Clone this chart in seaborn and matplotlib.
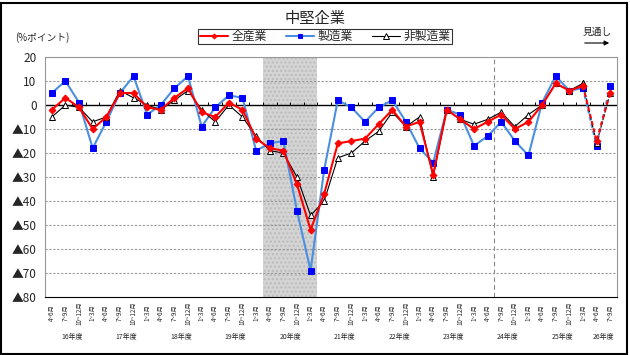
import matplotlib
matplotlib.use("Agg")
import matplotlib.pyplot as plt
import matplotlib.transforms as mtransforms
from matplotlib.patches import Rectangle
from matplotlib.lines import Line2D
import seaborn as sns
import pandas as pd
import numpy as np

sns.set_style("white")
plt.rcParams['font.family'] = ['Noto Sans CJK JP', 'DejaVu Sans']

years = ["16年度", "17年度", "18年度", "19年度", "20年度", "21年度",
         "22年度", "23年度", "24年度", "25年度", "26年度"]
quarters = ["4~6月", "7~9月", "10~12月", "1~3月"]
n_quarters_per_year = [4, 4, 4, 4, 4, 4, 4, 4, 4, 4, 2]

all_ind = [-2, 3, -1, -10, -5, 5, 5, -1, -2, 3, 7, -3, -5, 1, -2, -14,
           -18, -19, -33, -52, -37, -16, -15, -14, -8, -2, -9, -7,
           -29, -2, -6, -10, -7, -4, -10, -7, 0, 9, 6, 8, -15, 5]
mfg = [5, 10, 1, -18, -7, 5, 12, -4, 0, 7, 12, -9, -1, 4, 3, -19,
       -16, -15, -44, -69, -27, 2, -1, -7, -1, 2, -7, -18,
       -24, -2, -4, -17, -13, -7, -15, -21, 1, 12, 6, 7, -17, 8]
nonmfg = [-5, 0, -1, -7, -5, 6, 3, 0, -2, 2, 6, -2, -7, 0, -5, -13,
          -19, -20, -30, -46, -40, -22, -20, -15, -11, -3, -9, -5,
          -30, -2, -6, -8, -6, -3, -9, -4, 0, 9, 6, 9, -16, 5]
series_names = ["全産業", "製造業", "非製造業"]

q_labels = []
for ny in n_quarters_per_year:
    q_labels += quarters[:ny]
n = len(q_labels)
idx = np.arange(n)
last_actual = 39          # forecast segments drawn dashed after this point
shaded_year = "20年度"
divider_after = 32        # dashed vertical divider after this index

fig = plt.figure(figsize=(6.3, 3.55), dpi=100)
ax = fig.add_axes([45/630, 1-297/355, (617-45)/630, 240/355])

styles = {
    "全産業": dict(color="#FF0000", marker="D", ms=3.5, mfc="#FF0000", mec="#FF0000", lw=1.5),
    "製造業": dict(color="#4A8FE0", marker="s", ms=4.5, mfc="#0000FF", mec="#0000FF", lw=1.5),
    "非製造業": dict(color="#000000", marker="^", ms=5, mfc="white", mec="#000000", lw=0.8),
}
data = {"全産業": all_ind, "製造業": mfg, "非製造業": nonmfg}
order = ["製造業", "非製造業", "全産業"]
for name in order:
    vals = data[name]
    st = styles[name]
    df1 = pd.DataFrame({"x": idx[:last_actual+1], "y": vals[:last_actual+1]})
    sns.lineplot(data=df1, x="x", y="y", ax=ax, color=st["color"], lw=st["lw"],
                 marker=st["marker"], markersize=st["ms"], markerfacecolor=st["mfc"],
                 markeredgecolor=st["mec"], markeredgewidth=0.7, zorder=4)
    df2 = pd.DataFrame({"x": idx[last_actual:], "y": vals[last_actual:]})
    sns.lineplot(data=df2, x="x", y="y", ax=ax, color=st["color"], lw=st["lw"],
                 linestyle=(0, (2, 1.5)),
                 marker=st["marker"], markersize=st["ms"], markerfacecolor=st["mfc"],
                 markeredgecolor=st["mec"], markeredgewidth=0.7, zorder=4)

# shaded year
start = sum(n_quarters_per_year[:years.index(shaded_year)])
ax.axvspan(start - 0.5, start + 3.5, facecolor="#D4D4D4", edgecolor="#BBBBBB",
           hatch="....", lw=0, zorder=0)
ax.axvline(divider_after + 0.5, color="#888888", lw=0.8, ls=(0, (4, 3)), zorder=1)

ax.set_xlim(-0.5, n - 0.5)
ax.set_ylim(-80, 20)
yt = np.arange(-80, 21, 10)
ax.set_yticks(yt)
ax.set_yticklabels([("▲%d" % -v) if v < 0 else str(v) for v in yt], fontsize=8.5)
for v in yt:
    if v == 0:
        ax.axhline(0, color="black", lw=1.0, zorder=2)
    elif v not in (-80, 20):
        ax.axhline(v, color="#999999", lw=0.8, ls=(0, (2, 1.5)), zorder=1)
ax.axhline(20, color="#AAAAAA", lw=0.8, ls=(0, (2, 1.5)), zorder=1)

# small ticks on zero line
bounds = np.arange(n + 1) - 0.5
ax.vlines(bounds[1:-1], 0, 1.3, color="black", lw=0.7, zorder=2)

ax.set_xlabel("")
ax.set_ylabel("")
year_bounds = np.concatenate([[0], np.cumsum(n_quarters_per_year)]) - 0.5
ax.set_xticks(year_bounds)
ax.set_xticklabels([""] * len(year_bounds))
ax.set_xticks(bounds, minor=True)
ax.tick_params(axis="x", which="major", length=32, width=0.8, color="black", direction="out")
ax.tick_params(axis="x", which="minor", length=23, width=0.8, color="black", direction="out")
ax.tick_params(axis="y", length=0, pad=6)

trans = mtransforms.blended_transform_factory(ax.transData, ax.transAxes)
for i, lab in enumerate(q_labels):
    ax.text(i, -0.067, lab, rotation=90, ha="center", va="center",
            fontsize=4.5, transform=trans)
for k, y in enumerate(years):
    c = (year_bounds[k] + year_bounds[k+1]) / 2
    ax.text(c, -0.165, y, ha="center", va="center", fontsize=5, transform=trans)

for sp in ax.spines.values():
    sp.set_color("#999999")
    sp.set_linewidth(0.8)
ax.spines["bottom"].set_color("black")

# legend
lh = [Line2D([0], [0], color=styles[s]["color"], lw=styles[s]["lw"], marker=styles[s]["marker"],
             ms=styles[s]["ms"] - 1, mfc=styles[s]["mfc"], mec=styles[s]["mec"], mew=0.7)
      for s in series_names]
leg = fig.legend(lh, series_names, loc="center", bbox_to_anchor=(325/630, 1-36.5/355),
                 ncol=3, fontsize=8.5, frameon=True, fancybox=False, edgecolor="black",
                 handlelength=2.4, handletextpad=0.3, columnspacing=1.6,
                 borderpad=0.1, borderaxespad=0)
leg.get_frame().set_linewidth(0.8)

fig.text(315/630, 1-18.5/355, "中堅企業", ha="center", va="center", fontsize=11)
fig.text(15/630, 1-38/355, "(%ポイント)", ha="left", va="center", fontsize=7)
fig.text(597/630, 1-32/355, "見通し", ha="center", va="center", fontsize=7)
fig.add_artist(matplotlib.patches.FancyArrowPatch((582/630, 1-43/355), (612/630, 1-43/355),
               transform=fig.transFigure, arrowstyle="-|>", mutation_scale=7,
               color="black", lw=0.8))

fig.add_artist(Rectangle((0.5/630, 1.5/355), 626/630, 351/355, transform=fig.transFigure,
                         fill=False, ec="black", lw=1.5))

fig.savefig("out.png", dpi=100)
